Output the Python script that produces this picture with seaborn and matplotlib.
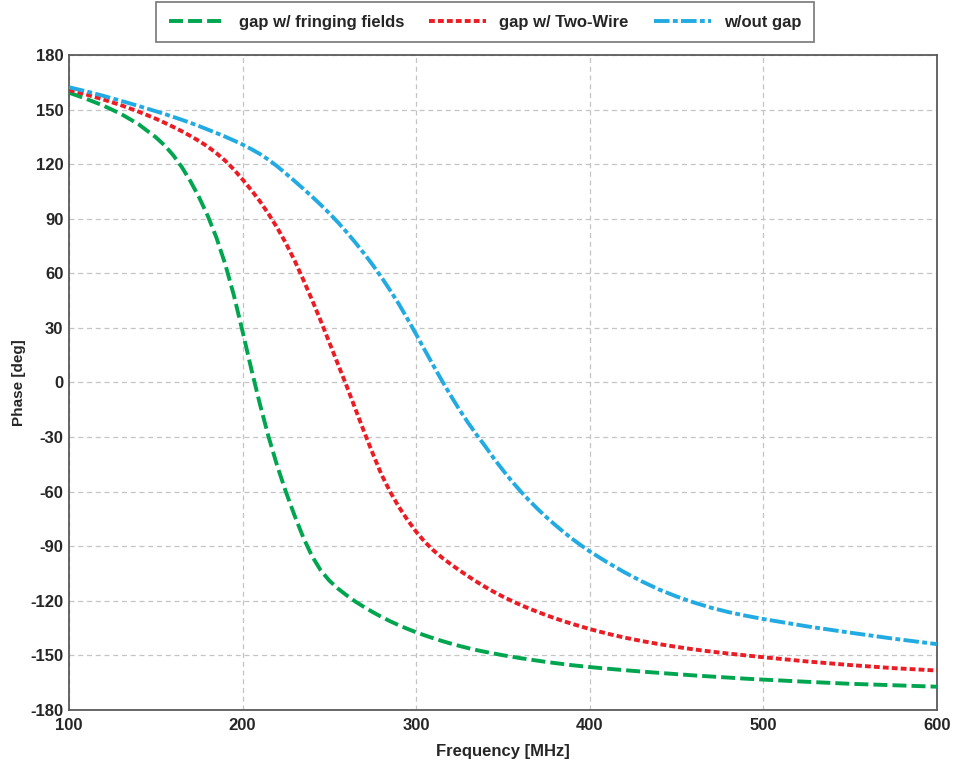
import matplotlib
matplotlib.use('agg')
import matplotlib.pyplot as plt
import seaborn as sns
import pandas as pd

GREEN = '#00a54f'
RED = '#ec1c24'
BLUE = '#22abe2'

# frequency grid in MHz
FREQ = [100, 110, 120, 130, 140,
        150, 155, 160, 165, 170, 175, 180, 185, 190, 195,
        200, 205, 210, 215, 220, 225, 230, 235, 240, 245,
        250, 255, 260, 265, 270, 275, 280, 285, 290, 295,
        300, 305, 310, 315, 320, 325, 330, 335, 340, 345,
        350, 355, 360, 365, 370, 375, 380, 385, 390, 395,
        400, 410, 420, 430, 440, 450, 460, 470, 480, 490,
        500, 525, 550, 575, 600]

# phase [deg]
FRINGING = [159.3, 155.9, 152.1, 147.6, 142.0,
            134.8, 130.4, 125.0, 118.4, 110.6, 101.7, 91.5, 79.5, 65.1, 47.9,
            28.1, 7.6, -11.9, -29.9, -45.9, -60.2, -73.2, -85.2, -95.4, -103.2,
            -108.9, -113.3, -117.0, -120.4, -123.4, -126.2, -128.8, -131.2, -133.4, -135.4,
            -137.3, -139.0, -140.6, -142.1, -143.5, -144.8, -146.0, -147.1, -148.1, -149.0,
            -149.9, -150.7, -151.5, -152.2, -152.9, -153.6, -154.2, -154.8, -155.4, -155.9,
            -156.4, -157.3, -158.1, -158.9, -159.6, -160.3, -161.0, -161.6, -162.2, -162.8,
            -163.3, -164.5, -165.6, -166.4, -167.2]

TWO_WIRE = [160.8, 158.3, 155.5, 152.4, 148.9,
            145.0, 142.8, 140.5, 138.1, 135.5, 132.7, 129.6, 126.0, 121.9, 117.1,
            111.6, 105.8, 99.6, 92.6, 85.0, 76.5, 67.0, 56.5, 45.5, 34.0,
            22.0, 10.0, -2.0, -14.5, -27.0, -39.0, -50.5, -60.0, -68.3, -75.5,
            -82.0, -87.6, -92.3, -96.3, -99.9, -103.3, -106.5, -109.6, -112.5, -115.2,
            -117.7, -120.0, -122.2, -124.2, -126.1, -127.9, -129.6, -131.2, -132.7, -134.1,
            -135.5, -138.0, -140.2, -142.1, -143.8, -145.3, -146.7, -147.9, -149.0, -150.0,
            -151.0, -153.3, -155.3, -157.0, -158.3]

NO_GAP = [162.3, 160.0, 157.5, 154.8, 152.0,
          149.1, 147.6, 146.0, 144.4, 142.7, 140.9, 139.0, 137.1, 135.1, 133.0,
          130.8, 128.3, 125.6, 122.4, 118.8, 114.8, 110.7, 106.5, 102.2, 97.7,
          93.0, 88.0, 82.6, 76.9, 70.9, 64.6, 57.9, 50.7, 43.2, 35.0,
          26.5, 17.8, 9.2, 0.8, -7.3, -15.0, -22.2, -28.9, -35.3, -42.0,
          -48.2, -54.1, -59.6, -64.7, -69.5, -74.0, -78.2, -82.2, -86.0, -89.5,
          -92.8, -98.8, -104.3, -109.3, -113.8, -117.6, -120.9, -123.8, -126.2, -128.2,
          -130.0, -134.0, -137.5, -140.8, -143.8]

LABELS = ['gap w/ fringing fields', 'gap w/ Two-Wire', 'w/out gap']

YTICKS = list(range(-180, 181, 30))
XTICKS = [100, 200, 300, 400, 500, 600]

LW = 2.8


def setup():
    sns.set_style('white')
    matplotlib.rcParams['font.family'] = ['Liberation Sans', 'DejaVu Sans']
    matplotlib.rcParams['font.weight'] = 'bold'
    matplotlib.rcParams['axes.unicode_minus'] = False


setup()

df = pd.DataFrame({'freq': FREQ, 'fringing': FRINGING, 'two_wire': TWO_WIRE, 'no_gap': NO_GAP})

fig = plt.figure(figsize=(9.54, 7.64), dpi=100)
ax = fig.add_axes([0.0723, 0.0707, 0.9097, 0.8573])

styles = [
    ('fringing', GREEN, (0, (3.6, 1.3))),
    ('two_wire', RED, (0, (1.5, 0.8))),
    ('no_gap', BLUE, (0, (4.0, 0.85, 1.25, 0.85))),
]

handles = []
for (col, color, ls), label in zip(styles, LABELS):
    sns.lineplot(data=df, x='freq', y=col, color=color, linewidth=LW,
                 linestyle=ls, ax=ax, zorder=3, legend=False)
    line = ax.lines[-1]
    line.set_dash_capstyle('butt')
    line.set_label(label)
    handles.append(line)

if ax.get_legend() is not None:
    ax.get_legend().remove()

ax.set_xlim(100, 600)
ax.set_ylim(-180, 180)
ax.set_xticks(XTICKS)
ax.set_yticks(YTICKS)
ax.tick_params(axis='both', length=0, labelsize=12)
ax.tick_params(axis='x', pad=6)
ax.tick_params(axis='y', pad=4)
for t in ax.get_xticklabels() + ax.get_yticklabels():
    t.set_fontweight('bold')

ax.grid(True, color='#c4c4c4', linewidth=0.9, linestyle=(0, (4, 3)), zorder=0)
for s in ax.spines.values():
    s.set_color('#5a5a5a')
    s.set_linewidth(1.3)

ax.set_xlabel('Frequency [MHz]', fontsize=12, fontweight='bold', labelpad=8)
ax.set_ylabel('Phase [deg]', fontsize=11, fontweight='bold', labelpad=3)

leg = fig.legend(handles=handles, labels=LABELS, ncol=3, loc='center',
                 bbox_to_anchor=(0.155, 0.945, 0.707, 0.052), mode='expand',
                 handlelength=3.4, handletextpad=0.8,
                 frameon=True, fancybox=False, borderpad=0.75,
                 prop={'weight': 'bold', 'size': 12})
leg.get_frame().set_edgecolor('#555555')
leg.get_frame().set_linewidth(1.2)

fig.savefig('out.png', dpi=100)
